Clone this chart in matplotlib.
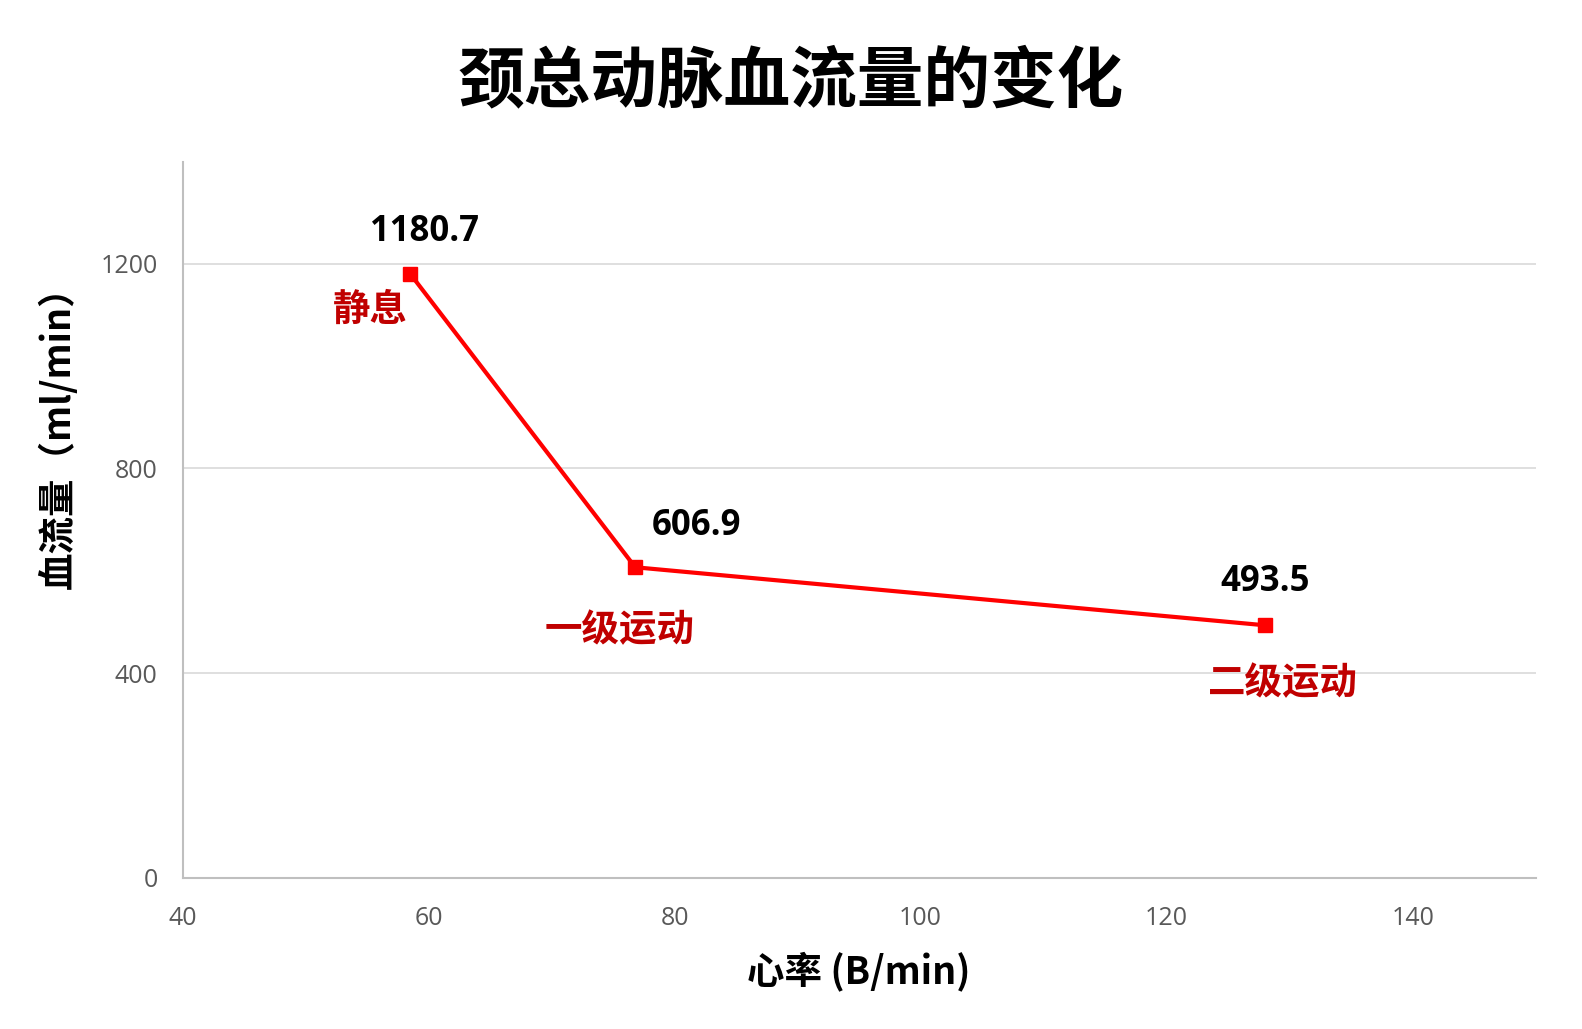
import matplotlib
matplotlib.use("Agg")
import matplotlib.pyplot as plt

# data
heart_rate = [58.5, 76.8, 128.0]
blood_flow = [1180.7, 606.9, 493.5]
value_labels = ["1180.7", "606.9", "493.5"]
state_labels = ["静息", "一级运动", "二级运动"]
x_ticks = [40, 60, 80, 100, 120, 140]
y_ticks = [0, 400, 800, 1200]

# label offsets in pixels (value label, state label)
value_offsets = [(14, 42), (61, 41), (0, 43)]
state_offsets = [(-40, -36), (-16, -62), (18, -57)]

cjk = ["Noto Sans CJK SC", "DejaVu Sans"]
num = ["Open Sans", "Noto Sans CJK SC", "DejaVu Sans"]

fig = plt.figure(figsize=(15.82, 10.29), dpi=100)
ax = fig.add_axes([0.1154, 0.147, 0.9707 - 0.1154, 0.843 - 0.147])

ax.plot(heart_rate, blood_flow, color="#ff0000", lw=3, marker="s", ms=10, zorder=3)

for x, y, t, off in zip(heart_rate, blood_flow, value_labels, value_offsets):
    ax.annotate(t, (x, y), xytext=off, textcoords="offset pixels", ha="center", va="center",
                fontsize=25, fontweight="bold", family=num, color="black")
for x, y, t, off in zip(heart_rate, blood_flow, state_labels, state_offsets):
    ax.annotate(t, (x, y), xytext=off, textcoords="offset pixels", ha="center", va="center",
                fontsize=27, fontweight="bold", family=cjk, color="#c00000")

ax.set_xlim(40, 150)
ax.set_ylim(0, 1400)
ax.set_xticks(x_ticks)
ax.set_yticks(y_ticks)
ax.yaxis.grid(True, color="#d9d9d9", lw=1.2)
ax.set_axisbelow(True)
for s in ["top", "right"]:
    ax.spines[s].set_visible(False)
for s in ["left", "bottom"]:
    ax.spines[s].set_color("#bfbfbf")
    ax.spines[s].set_linewidth(1.5)
ax.tick_params(length=0, labelsize=18, labelcolor="#595959")
ax.tick_params(axis="x", pad=20)
ax.tick_params(axis="y", pad=18)
for lab in ax.get_xticklabels() + ax.get_yticklabels():
    lab.set_family(num)

fig.text(0.5, 0.92, "颈总动脉血流量的变化", ha="center", va="center",
         fontsize=48, fontweight="bold", family=cjk)
fig.text(0.543, 0.056, "心率 (B/min)", ha="center", va="center",
         fontsize=27, fontweight="bold", family=cjk)
fig.text(0.037, 0.584, "血流量（ml/min）", ha="center", va="center", rotation=90,
         fontsize=27, fontweight="bold", family=cjk)

fig.savefig("out.png", dpi=100)
